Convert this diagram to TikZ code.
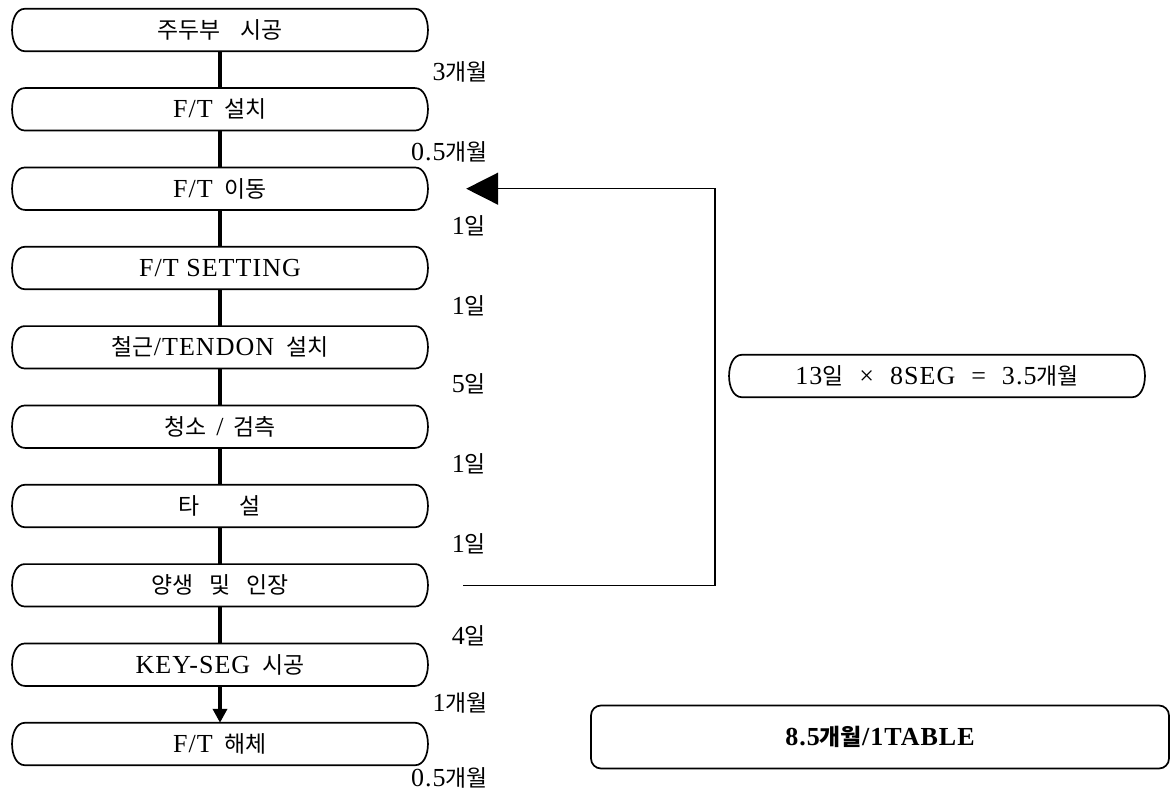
\documentclass[tikz,border=0pt]{standalone}
\usepackage{fontspec}
\setmainfont{Liberation Serif}[LetterSpace=4]
\newfontfamily\kr{Noto Sans CJK KR}[Scale=0.88]
\usetikzlibrary{arrows.meta}
\newcommand\K[1]{{\kr #1}}
\newcommand\gap[1]{\hspace{#1pt}}
% name, x, y, width, text
\newcommand\pbox[5]{%
  \node[inner sep=0pt, minimum width=#4pt, minimum height=42pt] (#1) at (#2,#3) {#5};
  \draw[outline] ([xshift=15pt]#1.north west) -- ([xshift=-15pt]#1.north east)
    .. controls ([xshift=2pt]#1.north east) and ([xshift=2pt]#1.south east) .. ([xshift=-15pt]#1.south east)
    -- ([xshift=15pt]#1.south west)
    .. controls ([xshift=-2pt]#1.south west) and ([xshift=-2pt]#1.north west) .. cycle;}
\begin{document}
\begin{tikzpicture}[x=1pt,y=-1pt, font=\fontsize{26}{30}\selectfont,
  outline/.style={line width=1.7pt, line join=round},
  conn/.style={line width=4pt},
  dur/.style={anchor=east, inner sep=0pt}]
\useasboundingbox (0,0) rectangle (1173,792);
\fill[white] (0,0) rectangle (1173,792);

\pbox{b1}{220}{30}{420}{\K{주두부\gap{20}시공}}
\pbox{b2}{220}{109.3}{420}{F/T\gap{12}\K{설치}}
\pbox{b3}{220}{188.7}{420}{F/T\gap{12}\K{이동}}
\pbox{b4}{220}{268}{420}{F/T SETTING}
\pbox{b5}{220}{347.3}{420}{\K{철근}/TENDON\gap{12}\K{설치}}
\pbox{b6}{220}{426.7}{420}{\K{청소}\gap{10}/\gap{10}\K{검측}}
\pbox{b7}{220}{506}{420}{\K{타\gap{40}설}}
\pbox{b8}{220}{585.3}{420}{\K{양생\gap{16}및\gap{16}인장}}
\pbox{b9}{220}{664.7}{420}{KEY-SEG\gap{12}\K{시공}}
\pbox{b10}{220}{744}{420}{F/T\gap{12}\K{해체}}

\draw[conn] (b1) -- (b2);
\draw[conn] (b2) -- (b3);
\draw[conn] (b3) -- (b4);
\draw[conn] (b4) -- (b5);
\draw[conn] (b5) -- (b6);
\draw[conn] (b6) -- (b7);
\draw[conn] (b7) -- (b8);
\draw[conn] (b8) -- (b9);
\draw[conn, -{Triangle[length=14pt,width=14pt]}] (b9) -- (b10);

\node[dur] (d1) at (488,72) {3\K{개월}};
\node[dur] (d2) at (488,152) {0.5\K{개월}};
\node[dur] (d3) at (486,226) {1\K{일}};
\node[dur] (d4) at (486,306) {1\K{일}};
\node[dur] (d5) at (486,384) {5\K{일}};
\node[dur] (d6) at (486,464) {1\K{일}};
\node[dur] (d7) at (486,544) {1\K{일}};
\node[dur] (d8) at (486,636) {4\K{일}};
\node[dur] (d9) at (488,703) {1\K{개월}};
\node[dur] (d10) at (488,778) {0.5\K{개월}};

\draw[line width=1.5pt, shorten <=33pt, shorten >=36pt,
  -{Triangle[length=32pt,width=32pt]}] (b8.east) -- ++(285,0) |- (b3.east);

\pbox{cyc}{937}{376}{420}{13\K{일}\gap{16}×\gap{16}8SEG\gap{16}=\gap{16}3.5\K{개월}}

\node[draw, line width=1.7pt, rounded corners=10pt, minimum width=578pt,
  minimum height=63pt, inner sep=0pt] (total) at (880,737)
  {\bfseries 8.5\K{개월}/1TABLE};
\end{tikzpicture}
\end{document}
